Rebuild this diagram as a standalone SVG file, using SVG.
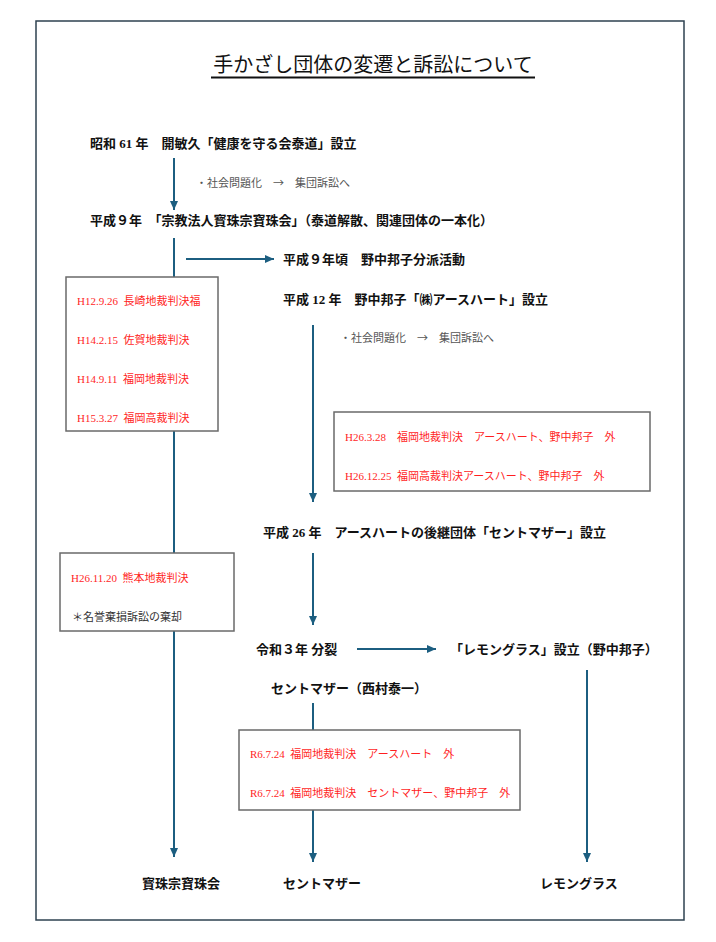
<svg xmlns="http://www.w3.org/2000/svg" width="716" height="942" viewBox="0 0 716 942">
<style>
.t{font-family:"Liberation Serif","Noto Sans CJK JP",serif;font-size:13px;font-weight:bold;fill:#111}
.g{font-family:"Noto Sans CJK JP",sans-serif;font-size:11px;fill:#555}
.r{font-family:"Liberation Serif","Noto Sans CJK JP",serif;font-size:11px;fill:#ff1f1f}
.n{font-family:"Liberation Serif","Noto Sans CJK JP",serif;font-size:11px;fill:#333}
.box{fill:#fff;stroke:#6a6a6a;stroke-width:1.5}
.c{stroke:#1c5e80;stroke-width:2;fill:none}
</style>
<defs>
<marker id="ah" markerUnits="userSpaceOnUse" markerWidth="10" markerHeight="10" refX="9" refY="5" orient="auto">
<path d="M0,1 L9,5 L0,9 Z" fill="#1c5e80"/>
</marker>
</defs>
<rect x="36" y="21" width="648" height="899" fill="#fff" stroke="#2e4250" stroke-width="1.5"/>
<g id="title">
<text x="373" y="72" text-anchor="middle" font-family="Noto Sans CJK JP,sans-serif" font-size="20" fill="#111">手かざし団体の変遷と訴訟について</text>
<line x1="211" y1="77.5" x2="535" y2="77.5" stroke="#111" stroke-width="2"/>
</g>
<g id="connectors">
<line class="c" x1="174" y1="158" x2="174" y2="210" marker-end="url(#ah)"/>
<line class="c" x1="174" y1="238" x2="174" y2="857" marker-end="url(#ah)"/>
<line class="c" x1="186" y1="259" x2="274" y2="259" marker-end="url(#ah)"/>
<line class="c" x1="313" y1="325" x2="313" y2="502" marker-end="url(#ah)"/>
<line class="c" x1="313" y1="553" x2="313" y2="625" marker-end="url(#ah)"/>
<line class="c" x1="357" y1="649" x2="436" y2="649" marker-end="url(#ah)"/>
<line class="c" x1="313" y1="703" x2="313" y2="862" marker-end="url(#ah)"/>
<line class="c" x1="587" y1="670" x2="587" y2="862" marker-end="url(#ah)"/>
</g>
<g id="n-showa61"><text class="t" x="90" y="148">昭和 61 年　開敏久「健康を守る会泰道」設立</text></g>
<g id="note1"><text class="g" x="196" y="187">・社会問題化　→　集団訴訟へ</text></g>
<g id="n-heisei9"><text class="t" x="90" y="225">平成９年　「宗教法人寳珠宗寶珠会」（泰道解散、関連団体の一本化）</text></g>
<g id="n-bunpa"><text class="t" x="283" y="264">平成９年頃　野中邦子分派活動</text></g>
<g id="box1">
<rect class="box" x="66" y="277" width="152" height="154"/>
<text class="r" x="77" y="305" xml:space="preserve">H12.9.26  長崎地裁判決福</text>
<text class="r" x="77" y="344" xml:space="preserve">H14.2.15  佐賀地裁判決</text>
<text class="r" x="77" y="383" xml:space="preserve">H14.9.11  福岡地裁判決</text>
<text class="r" x="77" y="422" xml:space="preserve">H15.3.27  福岡高裁判決</text>
</g>
<g id="n-heisei12"><text class="t" x="283" y="304">平成 12 年　野中邦子「㈱アースハート」設立</text></g>
<g id="note2"><text class="g" x="340" y="342">・社会問題化　→　集団訴訟へ</text></g>
<g id="box2">
<rect class="box" x="334" y="412" width="316" height="79" stroke="#555"/>
<text class="r" x="345" y="441" xml:space="preserve">H26.3.28　福岡地裁判決　アースハート、野中邦子　外</text>
<text class="r" x="345" y="480" xml:space="preserve">H26.12.25  福岡高裁判決アースハート、野中邦子　外</text>
</g>
<g id="n-heisei26"><text class="t" x="263" y="537">平成 26 年　アースハートの後継団体「セントマザー」設立</text></g>
<g id="box3">
<rect class="box" x="60" y="553" width="174" height="78"/>
<text class="r" x="71" y="582" xml:space="preserve">H26.11.20  熊本地裁判決</text>
<text class="n" x="72" y="621">＊名誉棄損訴訟の棄却</text>
</g>
<g id="n-reiwa3"><text class="t" x="256" y="654">令和３年 分裂</text></g>
<g id="n-lemon-est"><text class="t" x="450" y="654">「レモングラス」設立（野中邦子）</text></g>
<g id="n-stmother-nishimura"><text class="t" x="271" y="693">セントマザー（西村泰一）</text></g>
<g id="box4">
<rect class="box" x="239" y="730" width="281" height="80" stroke="#333"/>
<text class="r" x="250" y="758" xml:space="preserve">R6.7.24  福岡地裁判決　アースハート　外</text>
<text class="r" x="250" y="797" xml:space="preserve">R6.7.24  福岡地裁判決　セントマザー、野中邦子　外</text>
</g>
<g id="end-hoju"><text class="t" x="142" y="888">寳珠宗寶珠会</text></g>
<g id="end-stmother"><text class="t" x="283" y="888">セントマザー</text></g>
<g id="end-lemon"><text class="t" x="540" y="888">レモングラス</text></g>
</svg>
